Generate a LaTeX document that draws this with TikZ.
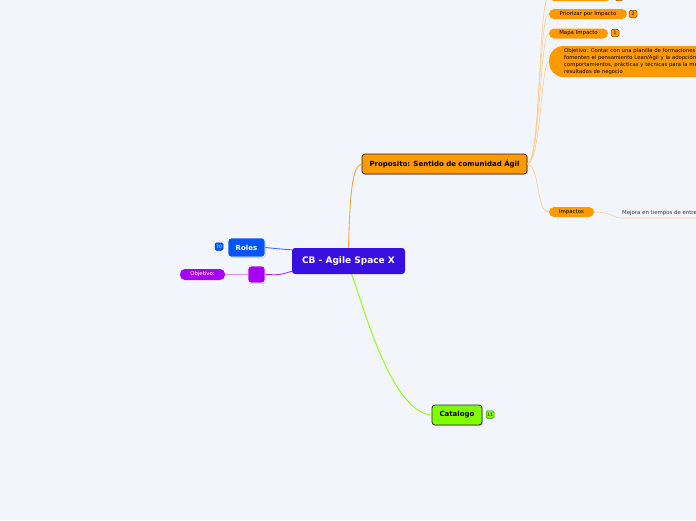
\documentclass[tikz,border=0pt]{standalone}
\usepackage{fontspec}
\setmainfont{DejaVu Sans}
\usetikzlibrary{shadows}

\definecolor{bgcol}{RGB}{243,245,253}
\definecolor{cbblue}{RGB}{55,15,222}
\definecolor{roleblue}{RGB}{0,85,255}
\definecolor{objpurple}{RGB}{165,0,245}
\definecolor{propor}{RGB}{255,153,0}
\definecolor{catgreen}{RGB}{128,255,0}
\definecolor{linor}{RGB}{247,165,60}
\definecolor{linorlt}{RGB}{255,205,140}

\begin{document}
\begin{tikzpicture}[x=1pt,y=-1pt,
  mainbox/.style={fill=cbblue,rounded corners=3pt,inner sep=0pt,text=white,
    font=\bfseries\fontsize{9}{10}\selectfont},
  topicbox/.style={draw=black!85,line width=0.8pt,rounded corners=3pt,inner sep=0pt,
    font=\bfseries\fontsize{7}{8}\selectfont,
    drop shadow={shadow xshift=1pt,shadow yshift=-1.2pt,opacity=0.35}},
  sidebox/.style={draw=white,line width=0.8pt,rounded corners=3pt,inner sep=0pt,text=white,
    font=\bfseries\fontsize{7}{8}\selectfont,
    drop shadow={shadow xshift=0.8pt,shadow yshift=-1pt,opacity=0.3}},
  pill/.style={fill=propor,rounded corners=5pt,inner sep=0pt,minimum height=10pt,
    font=\fontsize{5.4}{6.5}\selectfont},
  badge/.style={rounded corners=1.5pt,inner sep=0pt,minimum width=8pt,minimum height=7.5pt,
    line width=0.5pt,font=\fontsize{4.5}{5}\selectfont},
  link/.style={line width=0.9pt},
  twig/.style={line width=0.6pt,linorlt}
]
\fill[bgcol] (0,0) rectangle (696,520);
\clip (0,0) rectangle (696,520);

% central topic
\node[mainbox,minimum width=113pt,minimum height=26pt] (cb) at (348.5,261) {CB - Agile Space X};

% left side
\node[sidebox,fill=roleblue,minimum width=37pt,minimum height=19pt] (roles) at (246.5,247.5) {Roles};
\node[badge,fill=roleblue,draw=roleblue!70!black,text=white] (rolesn) at (219,246.5) {70};
\node[sidebox,fill=objpurple,minimum width=17pt,minimum height=17pt] (sq) at (256.5,274.5) {};
\node[pill,fill=objpurple,text=white,minimum width=45pt,minimum height=11pt] (objl) at (202.5,274.5) {Objetivo:};

% main branches
\node[topicbox,fill=propor,minimum width=165pt,minimum height=20pt] (prop) at (444.5,164) {Proposito: Sentido de comunidad Ágil};
\node[topicbox,fill=catgreen,minimum width=50pt,minimum height=20pt] (cat) at (457,415) {Catalogo};
\node[badge,fill=catgreen,draw=catgreen!55!black] (catn) at (490,414.5) {11};

% right side of Proposito
\node[pill,minimum width=63pt] (top) at (580.5,-4) {};
\node[badge,fill=propor,draw=propor!50!black] (topn) at (619,-3) {};
\node[pill,minimum width=78pt] (prio) at (588,14) {Priorizar por Impacto};
\node[badge,fill=propor,draw=propor!50!black] (prion) at (633,14) {2};
\node[pill,minimum width=59pt] (mapa) at (578.5,33.5) {Mapa Impacto};
\node[badge,fill=propor,draw=propor!50!black] (mapan) at (615,33) {1};
\node[fill=propor,rounded corners=14pt,anchor=west,inner xsep=15pt,inner ysep=0pt,
  minimum height=31pt,text width=190pt,align=left,
  font=\fontsize{5.3}{6.7}\selectfont] (obj) at (549,61.5)
  {Objetivo: Contar con una planilla de formaciones\\
   fomenten el pensamiento Lean/Agil y la adopción\\
   comportamientos, prácticas y técnicas para la mejora\\
   resultados de negocio};
\node[pill,minimum width=45pt] (imp) at (571.5,212) {Impactos};
\node[anchor=south west,inner xsep=0pt,inner ysep=2pt,text=black!80,
  font=\fontsize{5.4}{6.5}\selectfont] (mej) at (622,218) {Mejora en tiempos de entrega};

% connectors
\draw[link,linor] (cb.north) .. controls (350,195) and (352,166) .. (prop.west);
\draw[link,catgreen!80!lime] (cb.south) ++(3,0) .. controls (362,300) and (390,412) .. (cat.west);
\draw[link,roleblue!80] (cb.north west) ++(0,2) .. controls (280,249) .. (roles.east);
\draw[link,objpurple!85] (cb.south west) ++(0,-3) .. controls (280,275) .. (sq.east);
\draw[line width=0.6pt,objpurple!45] (objl.east) -- (sq.west);

\draw[twig] (prop.east) .. controls (541,163) and (538,0) .. (top.west);
\draw[twig] (prop.east) .. controls (540,163) and (539,14) .. (prio.west);
\draw[twig] (prop.east) .. controls (540,163) and (540,33) .. (mapa.west);
\draw[twig] (prop.east) .. controls (541,162) and (541,61) .. (obj.west);
\draw[twig] (prop.east) .. controls (540,166) and (536,212) .. (imp.west);
\draw[twig] (imp.east) .. controls (612,212) and (612,218) .. (mej.south west) -- (mej.south east);
\end{tikzpicture}
\end{document}
